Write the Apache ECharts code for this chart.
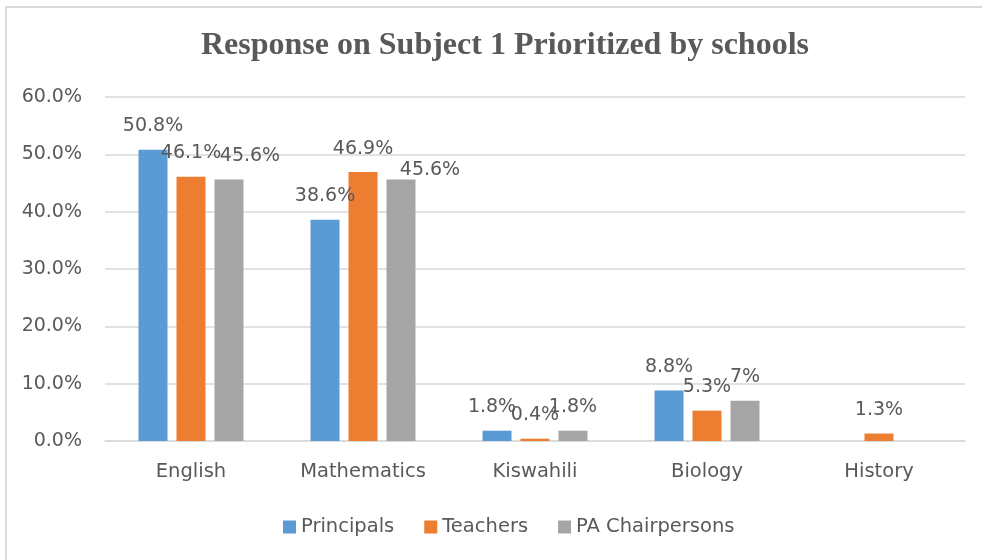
<!DOCTYPE html>
<html>
<head>
<meta charset="utf-8">
<script src="https://cdn.jsdelivr.net/npm/echarts@6/dist/echarts.min.js"></script>
<style>
  html, body { margin: 0; padding: 0; background: #ffffff; }
  #chart { width: 982px; height: 560px; }
</style>
</head>
<body>
<div id="chart"></div>
<script>
// Subjects on the category axis
const subjects = ['English', 'Mathematics', 'Kiswahili', 'Biology', 'History'];
// Share of respondents (%) naming each subject as priority 1
const principals = [50.8, 38.6, 1.8, 8.8, null];
const teachers = [46.1, 46.9, 0.4, 5.3, 1.3];
const paChairpersons = [45.6, 45.6, 1.8, 7, null];
// Value axis ticks
const yTicks = [0, 10, 20, 30, 40, 50, 60];

const textColor = '#595959';
const gridColor = '#d9d9d9';
const sansFont = '"DejaVu Sans", sans-serif';

// Nudges for data labels that sit off their bars, keyed by series then subject
const labelNudge = {
  'Principals': { Kiswahili: [-5, 0] },
  'Teachers': {},
  'PA Chairpersons': { English: [21, 0], Mathematics: [29, 14] }
};

function buildSeries(name, values, color) {
  return {
    name: name,
    type: 'bar',
    barWidth: 29,
    barGap: '31%',
    itemStyle: { color: color },
    label: {
      show: true,
      position: 'top',
      distance: 14,
      color: textColor,
      fontFamily: sansFont,
      fontSize: 19,
      formatter: p => p.value == null ? '' : String(p.value) + '%'
    },
    data: values.map((v, i) => {
      const nudge = labelNudge[name][subjects[i]];
      if (v == null) return null;
      return nudge ? { value: v, label: { offset: nudge } } : v;
    })
  };
}

const chart = echarts.init(document.getElementById('chart'), null, { renderer: 'canvas' });
chart.setOption({
  backgroundColor: '#ffffff',
  animation: false,
  graphic: [{
    // chart frame: left and top edges only
    type: 'polyline',
    shape: { points: [[6, 700], [6, 7], [1200, 7]] },
    style: { fill: 'none', stroke: gridColor, lineWidth: 2 },
    silent: true
  }],
  title: {
    text: 'Response on Subject 1 Prioritized by schools',
    left: 196,
    top: 25,
    textStyle: {
      fontFamily: '"Liberation Serif", "Times New Roman", serif',
      fontWeight: 'bold',
      fontSize: 32,
      color: textColor
    }
  },
  legend: {
    bottom: 18,
    left: 278,
    itemWidth: 13,
    itemHeight: 13,
    itemGap: 30,
    icon: 'rect',
    textStyle: { color: textColor, fontFamily: sansFont, fontSize: 19.5 },
    data: ['Principals', 'Teachers', 'PA Chairpersons']
  },
  grid: { left: 105, right: 17, top: 97, bottom: 119, containLabel: false },
  xAxis: {
    type: 'category',
    data: subjects,
    axisLine: { show: true, lineStyle: { color: gridColor, width: 1.5 } },
    axisTick: { show: false },
    axisLabel: { color: textColor, fontFamily: sansFont, fontSize: 19.5, margin: 21 }
  },
  yAxis: {
    type: 'value',
    min: yTicks[0],
    max: yTicks[yTicks.length - 1],
    interval: yTicks[1] - yTicks[0],
    axisLine: { show: false },
    axisTick: { show: false },
    splitLine: { lineStyle: { color: gridColor, width: 1.5 } },
    axisLabel: {
      color: textColor, fontFamily: sansFont, fontSize: 19, margin: 23,
      formatter: v => v.toFixed(1) + '%'
    }
  },
  series: [
    buildSeries('Principals', principals, '#5b9bd5'),
    buildSeries('Teachers', teachers, '#ed7d31'),
    buildSeries('PA Chairpersons', paChairpersons, '#a5a5a5')
  ]
});
</script>
</body>
</html>
